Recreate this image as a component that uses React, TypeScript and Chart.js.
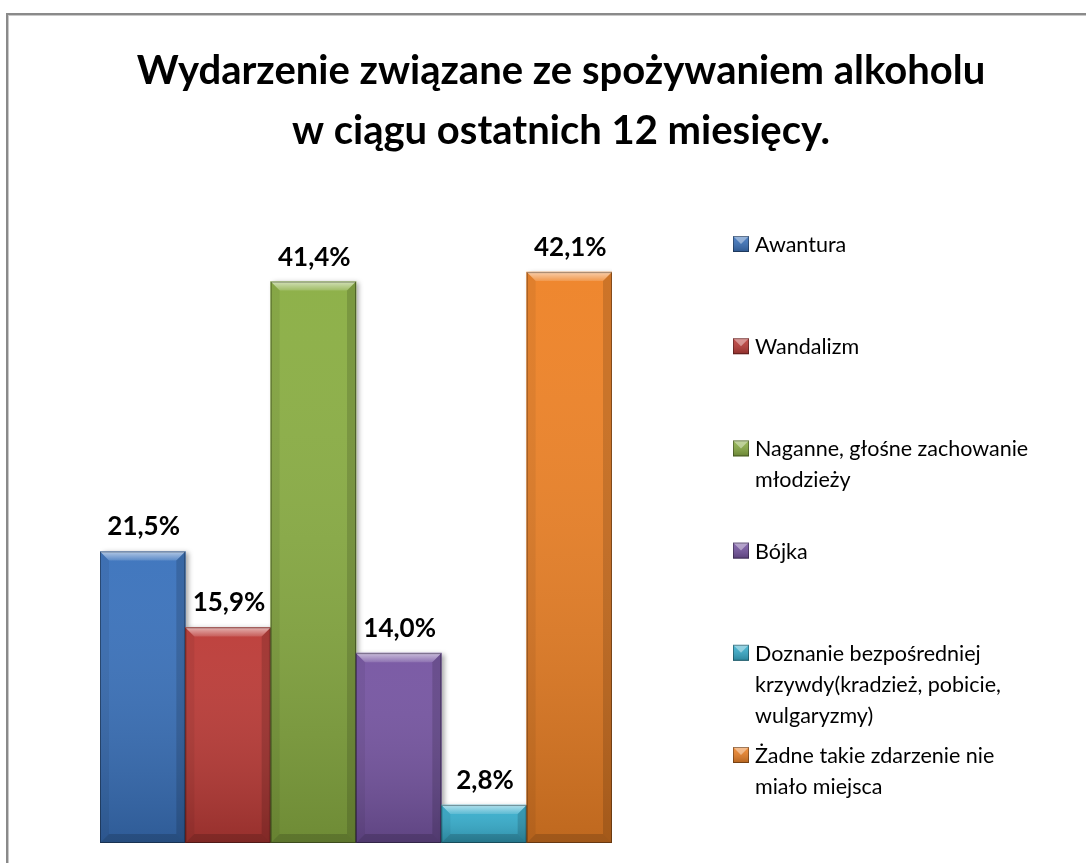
import React, { useEffect, useRef } from "react";
import { Chart, registerables } from "chart.js";

Chart.register(...registerables);

const TITLE_LINES = [
  "Wydarzenie związane ze spożywaniem alkoholu",
  "w ciągu ostatnich 12 miesięcy.",
];

const CATEGORIES = [
  "Awantura",
  "Wandalizm",
  "Naganne, głośne zachowanie młodzieży",
  "Bójka",
  "Doznanie bezpośredniej krzywdy(kradzież, pobicie, wulgaryzmy)",
  "Żadne takie zdarzenie nie miało miejsca",
];

const LEGEND_LINES = [
  ["Awantura"],
  ["Wandalizm"],
  ["Naganne, głośne zachowanie", "młodzieży"],
  ["Bójka"],
  ["Doznanie bezpośredniej", "krzywdy(kradzież, pobicie,", "wulgaryzmy)"],
  ["Żadne takie zdarzenie nie", "miało miejsca"],
];

const VALUES = [21.5, 15.9, 41.4, 14.0, 2.8, 42.1];

const COLORS = ["#3A72BC", "#BC3B37", "#8AAE43", "#7655A2", "#37AECD", "#EE8226"];

const Y_MAX = 50;

const W = 1086;
const H = 863;

function fmt(v: number) {
  return v.toFixed(1).replace(".", ",") + "%";
}

const decorPlugin = {
  id: "decor",
  beforeDraw(chart: any) {
    const ctx = chart.ctx;
    ctx.save();
    ctx.fillStyle = "#ffffff";
    ctx.fillRect(0, 0, chart.width, chart.height);
    ctx.fillStyle = "#8a8a8a";
    ctx.fillRect(6, 13, chart.width - 6, 2);
    ctx.fillRect(6, 13, 2, chart.height - 13);
    ctx.fillStyle = "#c9c9c9";
    ctx.fillRect(8, 15, chart.width - 8, 1);
    ctx.fillRect(8, 15, 1, chart.height - 15);
    ctx.restore();
  },
  beforeDatasetsDraw(chart: any) {
    const ctx = chart.ctx;
    ctx.save();
    ctx.shadowColor = "rgba(0,0,0,0.35)";
    ctx.shadowBlur = 5;
    ctx.shadowOffsetX = 3;
    ctx.shadowOffsetY = 1;
  },
  afterDatasetsDraw(chart: any) {
    const ctx = chart.ctx;
    ctx.restore();
    const meta = chart.getDatasetMeta(0);
    const values = chart.data.datasets[0].data as number[];
    meta.data.forEach((el: any, i: number) => {
      const p = el.getProps(["x", "y", "base", "width"], true);
      const l = p.x - p.width / 2;
      const r = p.x + p.width / 2;
      const t = Math.min(p.y, p.base);
      const b = Math.max(p.y, p.base);
      const bw = Math.min(9, (b - t) / 2);
      ctx.save();
      const g = ctx.createLinearGradient(0, t, 0, b);
      g.addColorStop(0, "rgba(255,255,255,0.04)");
      g.addColorStop(1, "rgba(0,0,0,0.2)");
      ctx.fillStyle = g;
      ctx.fillRect(l, t, r - l, b - t);
      const gt = ctx.createLinearGradient(0, t, 0, t + bw);
      gt.addColorStop(0, "rgba(255,255,255,0.6)");
      gt.addColorStop(1, "rgba(255,255,255,0.14)");
      ctx.fillStyle = gt;
      ctx.beginPath();
      ctx.moveTo(l, t);
      ctx.lineTo(r, t);
      ctx.lineTo(r - bw, t + bw);
      ctx.lineTo(l + bw, t + bw);
      ctx.closePath();
      ctx.fill();
      ctx.fillStyle = "rgba(0,0,0,0.06)";
      ctx.beginPath();
      ctx.moveTo(l, t);
      ctx.lineTo(l + bw, t + bw);
      ctx.lineTo(l + bw, b - bw);
      ctx.lineTo(l, b);
      ctx.closePath();
      ctx.fill();
      ctx.fillStyle = "rgba(0,0,0,0.14)";
      ctx.beginPath();
      ctx.moveTo(r, t);
      ctx.lineTo(r - bw, t + bw);
      ctx.lineTo(r - bw, b - bw);
      ctx.lineTo(r, b);
      ctx.closePath();
      ctx.fill();
      ctx.fillStyle = "rgba(0,0,0,0.16)";
      ctx.beginPath();
      ctx.moveTo(l, b);
      ctx.lineTo(l + bw, b - bw);
      ctx.lineTo(r - bw, b - bw);
      ctx.lineTo(r, b);
      ctx.closePath();
      ctx.fill();
      ctx.strokeStyle = "rgba(0,0,0,0.35)";
      ctx.lineWidth = 1;
      ctx.strokeRect(l + 0.5, t + 0.5, r - l - 1, b - t - 1);
      ctx.restore();

      ctx.save();
      ctx.fillStyle = "#000";
      ctx.font = 'bold 26px Lato, "Open Sans", sans-serif';
      ctx.textAlign = "center";
      ctx.textBaseline = "alphabetic";
      ctx.fillText(fmt(values[i]), p.x + 1, t - 16);
      ctx.restore();
    });
  },
  afterDraw(chart: any) {
    const ctx = chart.ctx;
    ctx.save();
    ctx.fillStyle = "#000";
    ctx.textAlign = "center";
    ctx.textBaseline = "alphabetic";
    ctx.font = 'bold 40px Lato, sans-serif';
    ctx.fillText(TITLE_LINES[0], 561, 84);
    ctx.fillText(TITLE_LINES[1], 561, 144);

    const colors = chart.data.datasets[0].backgroundColor as string[];
    ctx.textAlign = "left";
    ctx.font = '21.5px Lato, "Open Sans", sans-serif';
    LEGEND_LINES.forEach((lines, i) => {
      const base = 252 + i * 102.2;
      const mx = 733;
      const my = base - 16;
      const s = 16;
      ctx.fillStyle = colors[i];
      ctx.fillRect(mx, my, s, s);
      const gg = ctx.createLinearGradient(0, my, 0, my + s);
      gg.addColorStop(0, "rgba(255,255,255,0.1)");
      gg.addColorStop(1, "rgba(0,0,0,0.25)");
      ctx.fillStyle = gg;
      ctx.fillRect(mx, my, s, s);
      ctx.fillStyle = "rgba(255,255,255,0.4)";
      ctx.beginPath();
      ctx.moveTo(mx, my);
      ctx.lineTo(mx + s, my);
      ctx.lineTo(mx + s / 2, my + s / 2);
      ctx.closePath();
      ctx.fill();
      ctx.strokeStyle = "rgba(0,0,0,0.35)";
      ctx.lineWidth = 1;
      ctx.strokeRect(mx + 0.5, my + 0.5, s - 1, s - 1);
      ctx.fillStyle = "#000";
      lines.forEach((ln, j) => {
        ctx.fillText(ln, 755, base + j * 31);
      });
    });
    ctx.restore();
  },
};

export default function App() {
  const ref = useRef<HTMLCanvasElement | null>(null);
  useEffect(() => {
    if (!ref.current) return;
    const chart = new Chart(ref.current, {
      type: "bar",
      data: {
        labels: CATEGORIES,
        datasets: [
          {
            label: "Wydarzenie",
            data: VALUES,
            backgroundColor: COLORS,
            borderWidth: 0,
            barPercentage: 1,
            categoryPercentage: 1,
          },
        ],
      },
      options: {
        responsive: false,
        animation: false,
        devicePixelRatio: 1,
        layout: { padding: { left: 100, right: W - 612, top: 165, bottom: 20 } },
        scales: {
          x: { display: false },
          y: { display: false, min: 0, max: Y_MAX },
        },
        plugins: {
          legend: { display: false },
          title: { display: false },
          tooltip: { enabled: false },
        },
      },
      plugins: [decorPlugin],
    });
    return () => chart.destroy();
  }, []);
  return (
    <div style={{ position: "absolute", left: 0, top: 0, width: W, height: H, overflow: "hidden" }}>
      <canvas ref={ref} width={W} height={H} style={{ display: "block" }} />
    </div>
  );
}
